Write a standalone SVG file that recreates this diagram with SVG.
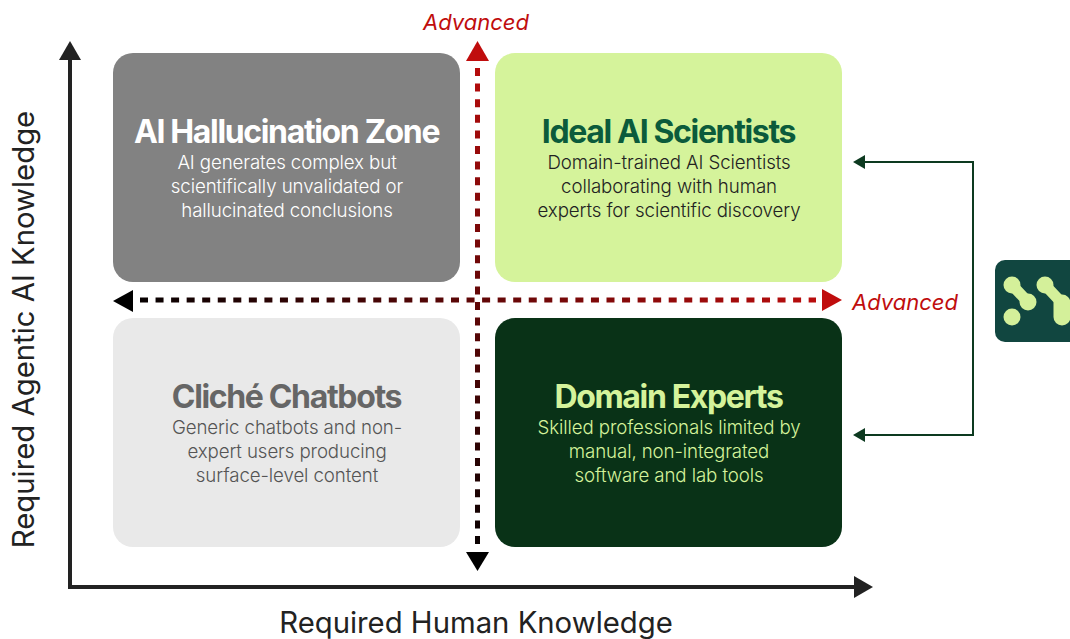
<svg xmlns="http://www.w3.org/2000/svg" width="1070" height="639" viewBox="0 0 1070 639">
<defs>
<linearGradient id="gv" gradientUnits="userSpaceOnUse" x1="0" y1="41" x2="0" y2="571"><stop offset="0" stop-color="#c00d0d"/><stop offset="1" stop-color="#000"/></linearGradient>
<linearGradient id="gh" gradientUnits="userSpaceOnUse" x1="113" y1="0" x2="842" y2="0"><stop offset="0" stop-color="#000"/><stop offset="1" stop-color="#c00d0d"/></linearGradient>
</defs>
<style>
text{font-family:Inter,"Liberation Sans",sans-serif;text-anchor:middle}
.t{font-size:32px;font-weight:700;letter-spacing:-1.35px}
.b{font-size:18.7px;font-weight:300;letter-spacing:-.1px}
.adv{font-size:22px;font-style:italic;fill:#c00d0d}
.ax{font-size:29.3px;fill:#222}
</style>
<rect width="1070" height="639" fill="#fff"/>
<g id="node-hallucination">
<rect x="113" y="53" width="347" height="229" rx="20" fill="#828282"/>
<text class="t" x="286.500" y="142.500" fill="#fff">AI Hallucination Zone</text>
<g class="b" fill="#fff"><text x="287" y="169">AI generates complex but</text><text x="287" y="193">scientifically unvalidated or</text><text x="287" y="217">hallucinated conclusions</text></g>
</g>
<g id="node-ideal">
<rect x="495" y="53" width="347" height="229" rx="20" fill="#d5f39b"/>
<text class="t" x="668.500" y="142.500" fill="#0b5b3b">Ideal AI Scientists</text>
<g class="b" fill="#222"><text x="669" y="169">Domain-trained AI Scientists</text><text x="669" y="193">collaborating with human</text><text x="669" y="217">experts for scientific discovery</text></g>
</g>
<g id="node-cliche">
<rect x="113" y="318" width="347" height="229" rx="20" fill="#e9e9e9"/>
<text class="t" x="286.500" y="407.500" fill="#666">Cliché Chatbots</text>
<g class="b" fill="#555"><text x="287" y="434">Generic chatbots and non-</text><text x="287" y="458">expert users producing</text><text x="287" y="482">surface-level content</text></g>
</g>
<g id="node-experts">
<rect x="495" y="318" width="347" height="229" rx="20" fill="#093217"/>
<text class="t" x="668.500" y="407.500" fill="#d5f39b">Domain Experts</text>
<g class="b" fill="#d5f39b"><text x="669" y="434">Skilled professionals limited by</text><text x="669" y="458">manual, non-integrated</text><text x="669" y="482">software and lab tools</text></g>
</g>
<g id="connectors">
<path d="M477.500 68V545" fill="none" stroke="url(#gv)" stroke-width="5" stroke-dasharray="8 7.6"/>
<path d="M477.500 41L489 61H466Z" fill="#c00d0d"/>
<path d="M477.500 571L466 552H489Z" fill="#000"/>
<path d="M140 300H816" fill="none" stroke="url(#gh)" stroke-width="5" stroke-dasharray="8 7.55"/>
<path d="M113 301L133 290V312Z" fill="#000"/>
<path d="M842 300L822 289V311Z" fill="#c00d0d"/>
<path d="M70 59V587H855" fill="none" stroke="#222" stroke-width="4"/>
<path d="M70 41L81 60H59Z" fill="#222"/>
<path d="M873 587L854 576V598Z" fill="#222"/>
<path d="M864 162H973V435H864" fill="none" stroke="#0d3a20" stroke-width="2"/>
<path d="M853 162L865 155V169Z" fill="#0d3a20"/>
<path d="M853 435L865 428V442Z" fill="#0d3a20"/>
</g>
<g id="logo">
<rect x="995" y="260" width="90" height="82" rx="10" fill="#114640"/>
<path d="M1012 285L1028 302M1045 285L1060 301" fill="none" stroke="#d4f09a" stroke-width="11" stroke-linecap="round"/>
<path d="M1062 303V317" fill="none" stroke="#d4f09a" stroke-width="17" stroke-linecap="round"/>
<g fill="#d4f09a"><circle cx="1012" cy="285" r="8.500"/><circle cx="1028" cy="302" r="8.500"/><circle cx="1045" cy="285" r="8.500"/><circle cx="1012" cy="317" r="8.500"/></g>
</g>
<g id="labels">
<text class="adv" x="476" y="30">Advanced</text>
<text class="adv" x="905" y="310">Advanced</text>
<text class="ax" x="476" y="633">Required Human Knowledge</text>
<text class="ax" transform="translate(34 329.500) rotate(-90)">Required Agentic AI Knowledge</text>
</g>
</svg>
